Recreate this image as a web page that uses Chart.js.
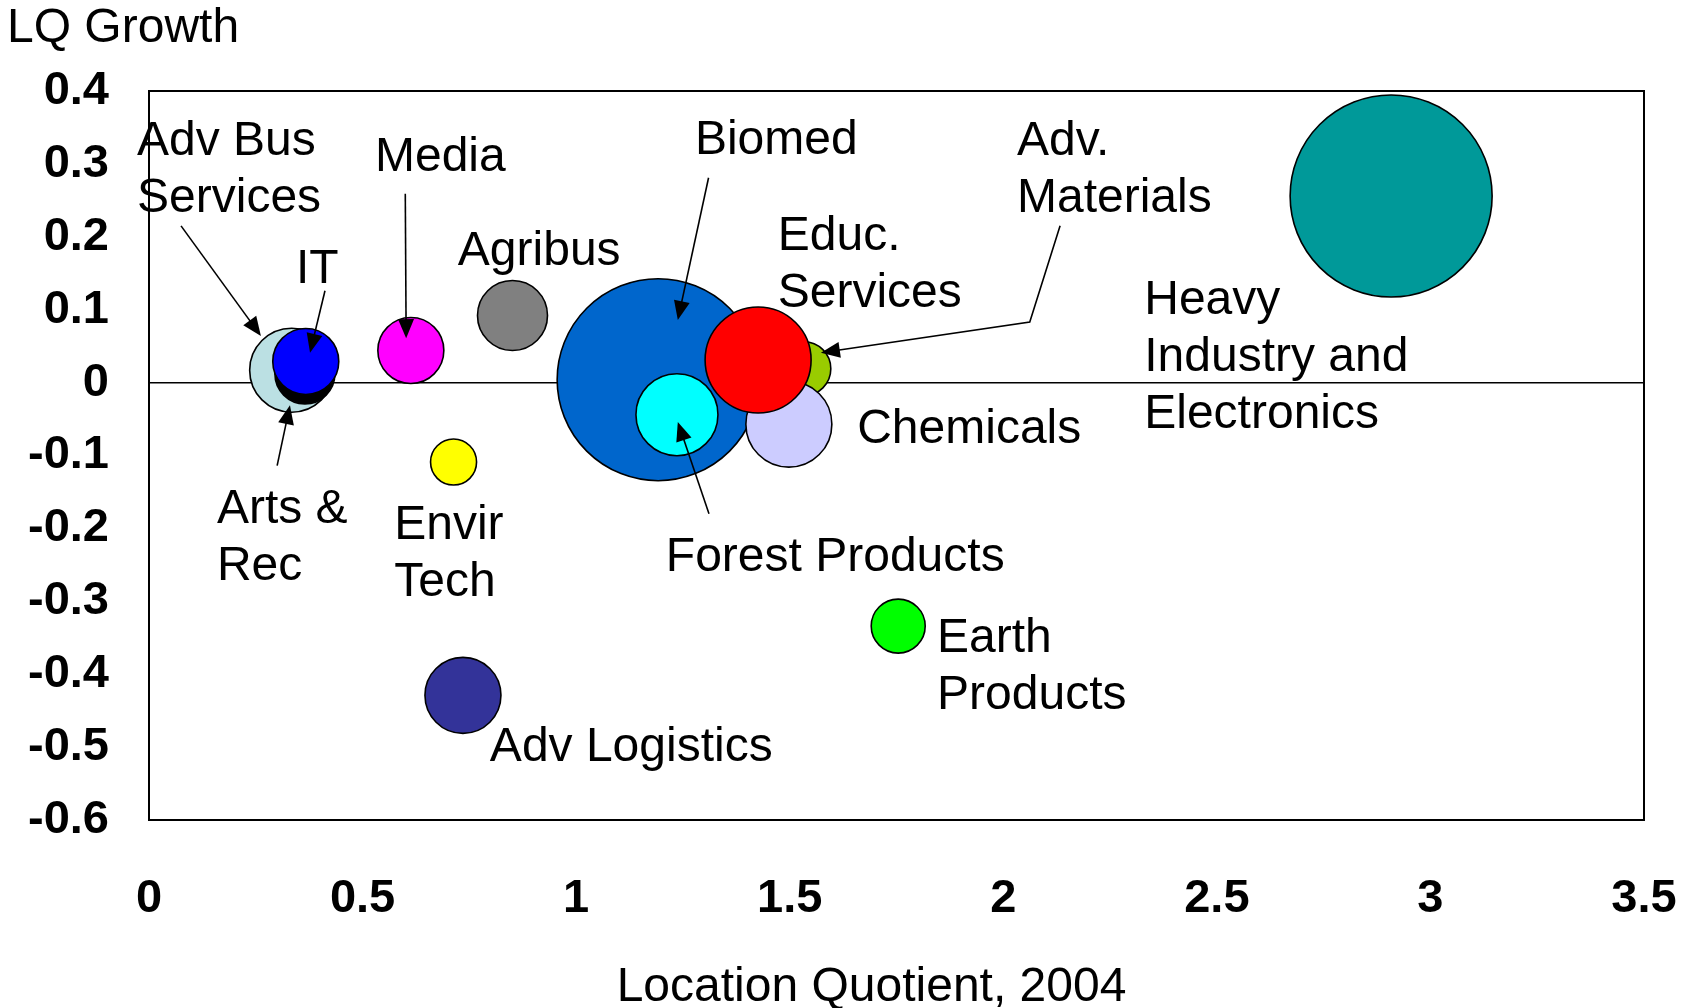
<!DOCTYPE html>
<html><head><meta charset="utf-8">
<script src="https://cdn.jsdelivr.net/npm/chart.js@4.4.1/dist/chart.umd.min.js"></script>
<style>html,body{margin:0;padding:0;background:#fff;overflow:hidden}</style>
</head><body>
<canvas id="c" width="1696" height="1008"></canvas>
<script>
// ---- data ----
const clusters = ["Adv Bus Services","Arts & Rec","IT","Media","Agribus","Envir Tech","Adv Logistics","Biomed","Adv. Materials","Chemicals","Educ. Services","Forest Products","Earth Products","Heavy Industry and Electronics"];
const locationQuotient = [0.334,0.365,0.367,0.613,0.851,0.713,0.735,1.192,1.533,1.498,1.426,1.236,1.754,2.908];
const lqGrowth = [0.017,0.012,0.029,0.044,0.092,-0.109,-0.429,0.004,0.019,-0.057,0.031,-0.044,-0.334,0.256];
const bubbleSize = [42,30,33,33,35,23,38,101,27,43,53,41,27,101];
const bubbleColors = ["#BBE0E3","#000000","#0000FF","#FF00FF","#808080","#FFFF00","#333399","#0066CC","#99CC00","#CCCCFF","#FF0000","#00FFFF","#00FF00","#009999"];
const xTickValues = [0,0.5,1,1.5,2,2.5,3,3.5];
const xTickLabels = ["0","0.5","1","1.5","2","2.5","3","3.5"];
const yTickValues = [-0.6,-0.5,-0.4,-0.3,-0.2,-0.1,0,0.1,0.2,0.3,0.4];
const yTickLabels = ["-0.6","-0.5","-0.4","-0.3","-0.2","-0.1","0","0.1","0.2","0.3","0.4"];
const xTitle = "Location Quotient, 2004";
const yTitle = "LQ Growth";

// ---- annotations (data units) ----
const annotationLabels = [
  {x:-0.028, y:0.312, lines:["Adv Bus","Services"]},
  {x:0.344, y:0.137, lines:["IT"]},
  {x:0.529, y:0.290, lines:["Media"]},
  {x:0.723, y:0.161, lines:["Agribus"]},
  {x:1.278, y:0.314, lines:["Biomed"]},
  {x:1.472, y:0.182, lines:["Educ.","Services"]},
  {x:2.032, y:0.312, lines:["Adv.","Materials"]},
  {x:2.330, y:0.094, lines:["Heavy","Industry and","Electronics"]},
  {x:1.658, y:-0.083, lines:["Chemicals"]},
  {x:1.210, y:-0.259, lines:["Forest Products"]},
  {x:1.845, y:-0.369, lines:["Earth","Products"]},
  {x:0.798, y:-0.519, lines:["Adv Logistics"]},
  {x:0.159, y:-0.193, lines:["Arts &","Rec"]},
  {x:0.574, y:-0.215, lines:["Envir","Tech"]}
];
const annotationArrows = [
  [[0.075,0.215],[0.262,0.064]],
  [[0.412,0.126],[0.377,0.041]],
  [[0.600,0.259],[0.602,0.061]],
  [[1.310,0.281],[1.238,0.086]],
  [[2.133,0.215],[2.062,0.083],[1.573,0.041]],
  [[1.311,-0.180],[1.238,-0.054]],
  [[0.300,-0.114],[0.330,-0.031]]
];

const FONT = '"Liberation Sans", Arial, sans-serif';
Chart.defaults.font.family = FONT;
Chart.defaults.color = '#000';

const points = clusters.map((c,i)=>({x:locationQuotient[i], y:lqGrowth[i], r:bubbleSize[i]}));

function lookup(values, labels, v){
  const i = values.findIndex(t=>Math.abs(t-v)<1e-6);
  return i>=0 ? labels[i] : '';
}

const overlay = {
  id:'overlay',
  afterDatasetsDraw(chart){
    const {ctx, chartArea:a, scales:{x,y}} = chart;
    ctx.save();
    ctx.strokeStyle='#000'; ctx.fillStyle='#000';
    ctx.lineWidth=2;
    ctx.strokeRect(a.left, a.top, a.right-a.left, a.bottom-a.top);
    ctx.lineWidth=1.6;
    for (const arr of annotationArrows){
      const pts = arr.map(p=>[x.getPixelForValue(p[0]), y.getPixelForValue(p[1])]);
      const n=pts.length;
      const [x1,y1]=pts[n-2], [x2,y2]=pts[n-1];
      const ang=Math.atan2(y2-y1,x2-x1), L=19, W=8;
      const c=Math.cos(ang), s=Math.sin(ang);
      ctx.beginPath(); ctx.moveTo(pts[0][0],pts[0][1]);
      for (let i=1;i<n-1;i++) ctx.lineTo(pts[i][0],pts[i][1]);
      ctx.lineTo(x2-L*0.8*c, y2-L*0.8*s);
      ctx.stroke();
      ctx.beginPath(); ctx.moveTo(x2,y2);
      ctx.lineTo(x2-L*c+W*s, y2-L*s-W*c);
      ctx.lineTo(x2-L*c-W*s, y2-L*s+W*c);
      ctx.closePath(); ctx.fill();
    }
    ctx.font='48px '+FONT; ctx.textAlign='left'; ctx.textBaseline='alphabetic';
    for (const lab of annotationLabels){
      const px=x.getPixelForValue(lab.x), py=y.getPixelForValue(lab.y);
      lab.lines.forEach((t,i)=>ctx.fillText(t, px, py+i*57));
    }
    ctx.restore();
  },
  afterDraw(chart){
    const {ctx, chartArea:a} = chart;
    ctx.save();
    ctx.fillStyle='#000'; ctx.font='48px '+FONT; ctx.textBaseline='alphabetic';
    ctx.textAlign='left';
    ctx.fillText(yTitle, 7, 42);
    ctx.textAlign='center';
    ctx.fillText(xTitle, (a.left+a.right)/2 - 25, 1001);
    ctx.restore();
  }
};

new Chart(document.getElementById('c'), {
  type:'bubble',
  data:{ datasets:[{
    label:'Clusters',
    data:points,
    backgroundColor:bubbleColors,
    borderColor:'#000',
    borderWidth:1.6,
    hoverBorderWidth:1.6,
    clip:false
  }]},
  options:{
    responsive:false, animation:false, devicePixelRatio:1,
    layout:{autoPadding:false, padding:{top:91,right:52,left:0,bottom:0}},
    plugins:{legend:{display:false}, tooltip:{enabled:false}},
    events:[],
    scales:{
      x:{type:'linear', min:0, max:3.5,
        afterFit(s){ s.height = 188; s.paddingLeft = 0; s.paddingRight = 0; },
        afterBuildTicks(s){ s.ticks = xTickValues.map(v=>({value:v})); },
        grid:{display:false, drawTicks:false},
        border:{display:false},
        ticks:{padding:51, font:{size:47, weight:'bold'}, color:'#000',
          callback:(v)=>lookup(xTickValues,xTickLabels,v), maxRotation:0, autoSkip:false}
      },
      y:{type:'linear', min:-0.6, max:0.4,
        afterFit(s){ s.width = 149; s.paddingTop = 0; s.paddingBottom = 0; },
        afterBuildTicks(s){ s.ticks = yTickValues.map(v=>({value:v})); },
        grid:{drawTicks:false, lineWidth:1.6,
          color:(c)=> (c.tick && Math.abs(c.tick.value)<1e-9) ? '#000' : 'rgba(0,0,0,0)'},
        border:{display:false},
        ticks:{padding:40, font:{size:47, weight:'bold'}, color:'#000',
          callback:(v)=>lookup(yTickValues,yTickLabels,v), autoSkip:false}
      }
    }
  },
  plugins:[overlay]
});
</script>
</body></html>
